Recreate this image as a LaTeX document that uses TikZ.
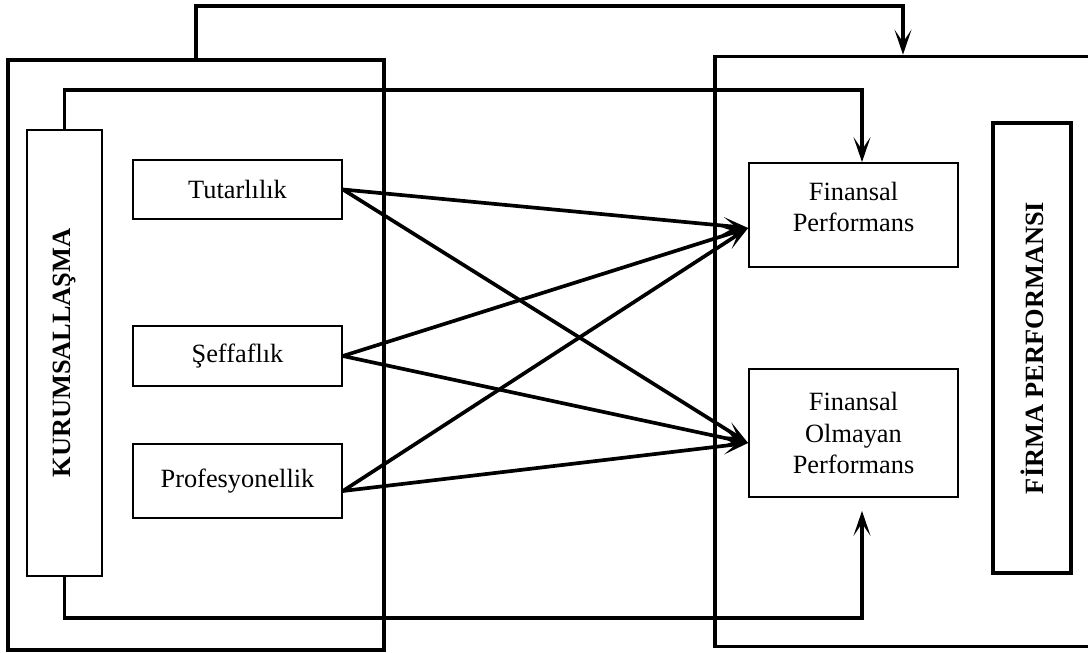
\documentclass[tikz,border=0pt]{standalone}
\usepackage{fontspec}
\setmainfont{Liberation Serif}
\usetikzlibrary{arrows.meta}

\begin{document}
\begin{tikzpicture}[
    line width=2.1pt,
    >={Stealth[length=0.5cm,width=0.34cm,inset=0.25cm]},
    frame/.style={draw,line width=2.1pt,inner sep=0pt},
    item/.style={draw,line width=1pt,inner sep=0pt,align=center,font=\fontsize{15}{18}\selectfont},
    side/.style={item,font=\fontsize{15}{18}\selectfont\bfseries},
  ]

  \useasboundingbox (0,0) rectangle (21.76,-13.06);
  \clip (0,0) rectangle (21.76,-13.06);

  % the two large frames
  \node (kur-frame) at (3.92,-7.1) [frame,minimum width=7.52cm,minimum height=11.8cm] {};
  \node (firm-frame) at (18.06,-7.03) [frame,minimum width=7.52cm,minimum height=11.8cm] {};

  \node (kur) at (1.29,-7.06) [side,minimum width=1.5cm,minimum height=8.92cm] {\rotatebox{90}{KURUMSALLAŞMA}};
  \node (firm) at (20.64,-6.96) [side,line width=2.6pt,minimum width=1.56cm,minimum height=9cm] {\rotatebox{90}{FİRMA PERFORMANSI}};

  \node (tut) at (4.75,-3.79) [item,minimum width=4.18cm,minimum height=1.18cm] {Tutarlılık};
  \node (sef) at (4.75,-7.12) [item,minimum width=4.18cm,minimum height=1.2cm] {Şeffaflık};
  \node (pro) at (4.75,-9.62) [item,minimum width=4.18cm,minimum height=1.48cm] {Profesyonellik};

  \node (fin) at (17.07,-4.3) [item,minimum width=4.18cm,minimum height=2.08cm] {Finansal\\Performans\\[-0.3cm]};
  \node (nfin) at (17.07,-8.66) [item,minimum width=4.18cm,minimum height=2.56cm] {Finansal\\Olmayan\\Performans};

  % frame to frame, box to box
  \draw[->] (kur-frame.north) -- ++(0,1.04) -| (firm-frame.north);
  \draw[->] (kur.north) -- ++(0,0.78) -| ([xshift=0.17cm]fin.north);
  \draw[->] (kur.south) -- ++(0,-0.82) -| ([xshift=0.17cm,yshift=-0.26cm]nfin.south);

  \draw[->] (tut.east) -- ([yshift=-0.26cm]fin.west);
  \draw[->] (tut.east) -- ([yshift=-0.2cm]nfin.west);
  \draw[->] (sef.east) -- ([yshift=-0.26cm]fin.west);
  \draw[->] (sef.east) -- ([yshift=-0.2cm]nfin.west);
  \draw[->] ([yshift=-0.2cm]pro.east) -- ([yshift=-0.26cm]fin.west);
  \draw[->] ([yshift=-0.2cm]pro.east) -- ([yshift=-0.2cm]nfin.west);

\end{tikzpicture}
\end{document}
